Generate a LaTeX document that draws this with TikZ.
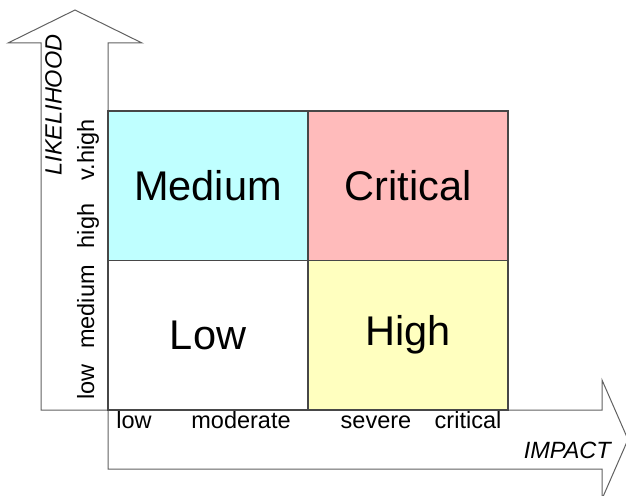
\documentclass[tikz,border=0pt]{standalone}
\usepackage{fontspec}
\setmainfont{Liberation Sans}
\begin{document}
\begin{tikzpicture}[x=1pt,y=-1pt,
  outline/.style={draw=black!62,line width=1pt,line join=miter},
  cell/.style={draw=black!72,line width=1.4pt,minimum width=200pt,minimum height=149.5pt,
    inner sep=0pt,font=\fontsize{41.5}{48}\selectfont},
  scale label/.style={font=\fontsize{23.5}{28}\selectfont,inner sep=0pt,
    text height=0.74em,text depth=0.21em},
  axis title/.style={font=\fontsize{23.5}{28}\selectfont\itshape,inner sep=0pt,
    text height=0.74em,text depth=0.21em}]
\useasboundingbox (0,0) rectangle (626,495);
\fill[white] (0,0) rectangle (626,495);
% impact arrow
\draw[outline] (108,410) -- (602,410) -- (602,380) -- (628,439.5) -- (602,499)
  -- (602,469) -- (108,469) -- cycle;
% likelihood arrow
\draw[outline] (41,410) -- (41,43) -- (8,43) -- (75,10) -- (142,43) -- (108,43)
  -- (108,410) -- cycle;
% risk matrix
\node[cell,fill={rgb,255:red,191;green,255;blue,255}] (medium) at (208,185.75) {Medium};
\node[cell,fill={rgb,255:red,255;green,187;blue,187}] (critical) at (408,185.75) {Critical};
\node[cell,fill=white] (low) at (208,335.25) {Low};
\node[cell,fill={rgb,255:red,255;green,255;blue,191}] (high) at (408,335.25) {High};
% impact scale
\node[scale label] (ilow) at (134,426) {low};
\node[scale label] (imod) at (241,426) {moderate};
\node[scale label] (isev) at (376,426) {severe};
\node[scale label] (icrit) at (468,426) {critical};
\node[axis title,anchor=east] (impact) at (611,455.5) {IMPACT};
% likelihood scale
\node[scale label,rotate=90] (llow) at (91.5,382) {low};
\node[scale label,rotate=90] (lmed) at (91.5,307) {medium};
\node[scale label,rotate=90] (lhigh) at (91.5,226) {high};
\node[scale label,rotate=90] (lvhigh) at (91.5,150) {v.high};
\node[axis title,rotate=90] (likelihood) at (59,105) {LIKELIHOOD};
\end{tikzpicture}
\end{document}
